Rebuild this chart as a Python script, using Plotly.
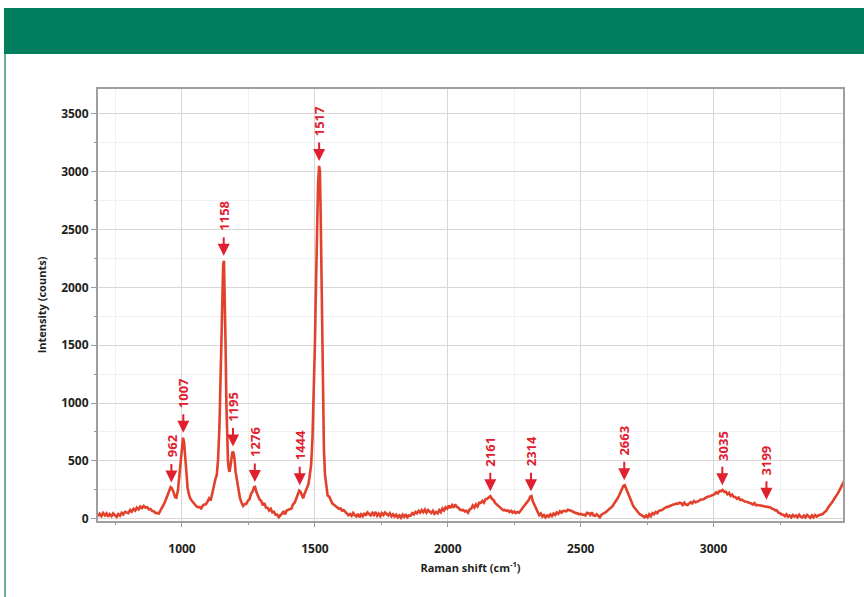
import plotly.graph_objects as go

# Raman spectrum
shift = [684, 690, 697, 703, 710, 716, 722, 728, 735, 741, 748, 754, 760, 767, 773, 779, 786, 792, 798, 805,
         811, 818, 824, 830, 837, 843, 850, 856, 862, 869, 875, 881, 888, 894, 900, 907, 913, 919, 926, 932,
         938, 945, 951, 957, 962, 968, 974, 979, 985, 990, 995, 1000, 1004, 1008, 1012, 1016, 1021, 1026, 1031, 1037,
         1043, 1049, 1055, 1060, 1066, 1072, 1078, 1084, 1090, 1096, 1102, 1108, 1114, 1120, 1126, 1131, 1136, 1141, 1145, 1149,
         1152, 1155, 1158, 1161, 1164, 1167, 1170, 1173, 1176, 1179, 1182, 1186, 1190, 1194, 1198, 1202, 1207, 1212, 1218, 1224,
         1230, 1236, 1242, 1248, 1254, 1260, 1266, 1271, 1275, 1280, 1286, 1292, 1298, 1304, 1310, 1316, 1322, 1328, 1334, 1340,
         1346, 1352, 1358, 1364, 1370, 1376, 1382, 1388, 1394, 1400, 1406, 1412, 1418, 1424, 1430, 1436, 1441, 1446, 1451, 1456,
         1461, 1466, 1471, 1476, 1481, 1486, 1491, 1496, 1500, 1504, 1508, 1512, 1516, 1519, 1522, 1525, 1528, 1531, 1534, 1538,
         1543, 1548, 1554, 1560, 1566, 1572, 1578, 1584, 1590, 1596, 1602, 1608, 1614, 1620, 1626, 1632, 1638, 1644, 1650, 1656,
         1662, 1668, 1674, 1680, 1686, 1692, 1698, 1704, 1710, 1716, 1722, 1728, 1734, 1740, 1746, 1752, 1758, 1764, 1770, 1776,
         1782, 1788, 1794, 1800, 1806, 1812, 1818, 1824, 1830, 1836, 1842, 1848, 1854, 1860, 1866, 1872, 1878, 1884, 1890, 1896,
         1902, 1908, 1914, 1920, 1926, 1932, 1938, 1944, 1950, 1956, 1962, 1968, 1974, 1980, 1986, 1992, 1998, 2004, 2010, 2016,
         2022, 2028, 2034, 2040, 2046, 2052, 2058, 2064, 2070, 2076, 2082, 2088, 2094, 2100, 2106, 2112, 2118, 2124, 2130, 2136,
         2142, 2148, 2154, 2160, 2166, 2172, 2178, 2184, 2190, 2196, 2202, 2208, 2214, 2220, 2226, 2232, 2238, 2244, 2250, 2256,
         2262, 2268, 2274, 2280, 2286, 2292, 2298, 2304, 2310, 2315, 2320, 2326, 2332, 2338, 2344, 2350, 2356, 2362, 2368, 2374,
         2380, 2386, 2392, 2398, 2404, 2410, 2416, 2422, 2428, 2434, 2440, 2446, 2452, 2458, 2464, 2470, 2476, 2482, 2488, 2494,
         2500, 2506, 2512, 2518, 2524, 2530, 2536, 2542, 2548, 2554, 2560, 2566, 2572, 2578, 2584, 2590, 2596, 2602, 2608, 2614,
         2620, 2626, 2632, 2638, 2644, 2650, 2656, 2661, 2666, 2671, 2676, 2681, 2686, 2692, 2698, 2704, 2710, 2716, 2722, 2728,
         2734, 2740, 2746, 2752, 2758, 2764, 2770, 2776, 2782, 2788, 2794, 2800, 2806, 2812, 2818, 2824, 2830, 2836, 2842, 2848,
         2854, 2860, 2866, 2872, 2878, 2884, 2890, 2896, 2902, 2908, 2914, 2920, 2926, 2932, 2938, 2944, 2950, 2956, 2962, 2968,
         2974, 2980, 2986, 2992, 2998, 3004, 3010, 3016, 3022, 3028, 3034, 3040, 3046, 3052, 3058, 3064, 3070, 3076, 3082, 3088,
         3094, 3100, 3106, 3112, 3118, 3124, 3130, 3136, 3142, 3148, 3154, 3160, 3166, 3172, 3178, 3184, 3190, 3196, 3202, 3208,
         3214, 3220, 3226, 3232, 3238, 3244, 3250, 3256, 3262, 3268, 3274, 3280, 3286, 3292, 3298, 3304, 3310, 3316, 3322, 3328,
         3334, 3340, 3346, 3352, 3358, 3364, 3370, 3376, 3382, 3388, 3394, 3400, 3406, 3412, 3418, 3424, 3430, 3436, 3442, 3448,
         3454, 3460, 3466, 3472, 3478, 3484, 3490]

intensity = [20, 42, 22, 50, 28, 45, 18, 40, 22, 45, 28, 15, 40, 26, 50, 36, 60, 55, 48, 75,
             60, 85, 70, 95, 80, 105, 92, 110, 96, 100, 82, 85, 66, 64, 50, 48, 45, 72, 98, 125,
             158, 205, 248, 272, 262, 232, 186, 182, 250, 380, 520, 640, 700, 660, 520, 380, 270, 210, 175, 155,
             135, 125, 105, 100, 100, 88, 112, 122, 125, 148, 175, 158, 225, 278, 345, 378, 520, 800, 1200, 1650,
             2000, 2200, 2230, 1950, 1500, 1000, 700, 500, 430, 405, 450, 530, 580, 570, 510, 400, 320, 240, 180, 140,
             110, 125, 128, 155, 168, 215, 238, 272, 275, 230, 195, 165, 155, 115, 135, 95, 95, 70, 85, 55,
             60, 35, 35, 12, 30, 42, 65, 38, 70, 76, 75, 88, 125, 138, 175, 218, 242, 232, 205, 176,
             214, 248, 262, 300, 380, 470, 700, 1100, 1500, 2000, 2500, 2900, 3050, 3000, 2600, 2000, 1400, 900, 600, 380,
             260, 200, 190, 160, 130, 120, 110, 95, 85, 90, 70, 75, 55, 45, 30, 40, 25, 50, 30, 20,
             42, 12, 38, 22, 48, 26, 54, 36, 28, 50, 32, 58, 26, 44, 22, 48, 32, 54, 36, 28,
             48, 22, 38, 18, 34, 12, 28, 8, 34, 16, 38, 12, 28, 26, 48, 36, 58, 46, 68, 52,
             74, 56, 78, 52, 74, 56, 48, 68, 42, 58, 46, 74, 56, 88, 72, 98, 86, 114, 92, 118,
             96, 124, 102, 94, 76, 74, 76, 62, 68, 52, 78, 88, 114, 96, 124, 106, 138, 136, 154, 138,
             168, 172, 188, 195, 172, 162, 136, 124, 106, 98, 82, 74, 76, 68, 72, 58, 68, 52, 62, 48,
             58, 52, 68, 92, 108, 124, 138, 158, 190, 195, 150, 120, 80, 60, 30, 45, 18, 32, 12, 28,
             18, 38, 22, 44, 32, 54, 42, 64, 52, 68, 66, 64, 78, 76, 68, 62, 52, 48, 46, 38,
             42, 34, 36, 28, 52, 48, 32, 54, 28, 24, 38, 28, 12, 34, 42, 44, 58, 72, 84, 98,
             108, 132, 148, 172, 198, 232, 258, 285, 290, 260, 220, 192, 168, 142, 108, 92, 68, 58, 38, 32,
             18, 12, 28, 12, 38, 22, 48, 38, 58, 48, 68, 72, 74, 86, 98, 102, 104, 112, 114, 122,
             124, 132, 128, 138, 134, 118, 138, 122, 118, 128, 142, 132, 152, 142, 144, 152, 164, 166, 168, 178,
             188, 192, 194, 202, 204, 212, 228, 218, 238, 238, 248, 232, 234, 212, 224, 198, 208, 188, 188, 172,
             182, 162, 164, 152, 148, 146, 138, 136, 132, 122, 134, 116, 118, 116, 114, 112, 108, 106, 104, 100,
             98, 86, 84, 72, 72, 52, 48, 36, 34, 22, 38, 18, 28, 12, 32, 18, 28, 12, 34, 18,
             12, 28, 12, 32, 18, 8, 28, 12, 32, 18, 28, 32, 34, 42, 58, 68, 92, 108, 132, 148,
             172, 188, 212, 238, 262, 288, 320]

# Labelled peaks
peak_labels = ["962", "1007", "1158", "1195", "1276", "1444", "1517",
               "2161", "2314", "2663", "3035", "3199"]
peak_x = [960, 1005, 1157, 1192, 1274, 1443, 1516, 2160, 2313, 2664, 3033, 3199]
peak_y = [270, 700, 2230, 580, 275, 245, 3050, 195, 195, 290, 245, 120]

x_range = [684, 3487]
y_range = [-20, 3715]
x_ticks = [1000, 1500, 2000, 2500, 3000]
y_ticks = [0, 500, 1000, 1500, 2000, 2500, 3000, 3500]

LINE = "#E2412B"
LABEL = "#E0202E"
GREEN = "#007F5F"
FONT = "Open Sans, Noto Sans, Liberation Sans, sans-serif"

fig = go.Figure()
fig.add_trace(go.Scatter(x=shift, y=intensity, mode="lines",
                         line=dict(color=LINE, width=2.6), hoverinfo="skip",
                         showlegend=False))

for lab, px, py in zip(peak_labels, peak_x, peak_y):
    # arrow only
    fig.add_annotation(x=px, y=py, text="", showarrow=True, arrowhead=2,
                       arrowsize=1.2, arrowwidth=2, arrowcolor=LABEL,
                       ax=0, ay=-25, standoff=5)
    # rotated label above the arrow
    fig.add_annotation(x=px, y=py, text="<b>" + lab + "</b>", textangle=-90,
                       showarrow=False, xanchor="center", yanchor="middle",
                       yshift=32 + 3.2 * len(lab),
                       font=dict(family=FONT, size=13, color=LABEL))

# Green banner and left rule
fig.add_shape(type="rect", xref="paper", yref="paper",
              x0=-0.1262, x1=1.03, y0=1.081, y1=1.1875,
              fillcolor=GREEN, line=dict(width=0), layer="above")
fig.add_shape(type="line", xref="paper", yref="paper",
              x0=-0.1248, x1=-0.1248, y0=1.082, y1=-0.18,
              line=dict(color=GREEN, width=1.2))

axis_font = dict(family=FONT, size=12, color="#231F20")

fig.update_layout(
    width=864, height=597,
    margin=dict(l=98, r=21, t=89, b=76),
    paper_bgcolor="white", plot_bgcolor="white",
    font=dict(family=FONT),
    xaxis=dict(range=x_range, tickvals=x_ticks, ticktext=["<b>%d</b>" % v for v in x_ticks],
               tickfont=axis_font, ticks="outside", ticklen=4, tickcolor="#9A9A9A",
               ticklabelstandoff=12,
               showgrid=True, gridcolor="#DCD6D2", gridwidth=1.3,
               showline=True, linecolor="#9E9E9E", linewidth=2, mirror=True,
               zeroline=False,
               minor=dict(dtick=250, tick0=0, showgrid=True, gridcolor="#EEF0F2",
                          ticks="outside", ticklen=2, tickcolor="#9A9A9A"),
               title=dict(text="<b>Raman shift (cm<sup>-1</sup>)</b>",
                          font=dict(family=FONT, size=11, color="#231F20"), standoff=8)),
    yaxis=dict(range=y_range, tickvals=y_ticks, ticktext=["<b>%d</b>" % v for v in y_ticks],
               tickfont=axis_font, ticks="outside", ticklen=5, tickcolor="#9A9A9A",
               showgrid=True, gridcolor="#DCD6D2", gridwidth=1.3,
               showline=True, linecolor="#9E9E9E", linewidth=2, mirror=True,
               zeroline=False,
               minor=dict(dtick=250, tick0=0, showgrid=True, gridcolor="#EEF0F2",
                          ticks="outside", ticklen=2, tickcolor="#9A9A9A"),
               title=dict(text="<b>Intensity (counts)</b>",
                          font=dict(family=FONT, size=11, color="#231F20"), standoff=12)),
)

fig.write_html("out.html", config={"displayModeBar": False},
               post_script="document.body.style.margin='0';")
